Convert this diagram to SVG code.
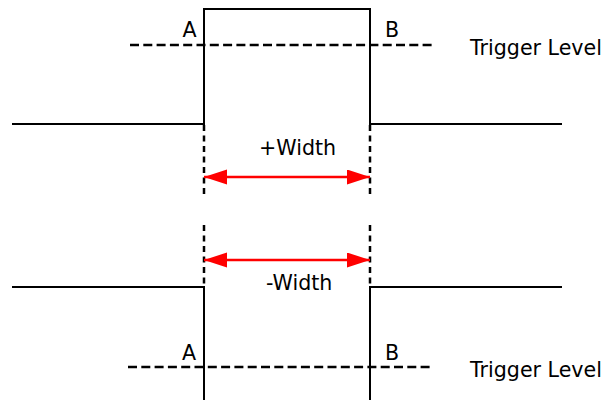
<svg xmlns="http://www.w3.org/2000/svg" width="607" height="400" viewBox="0 0 607 400">
  <style>
    .wave{fill:none;stroke:#000;stroke-width:2}
    .trig{fill:none;stroke:#000;stroke-width:2.5;stroke-dasharray:9,4.3}
    .guide{fill:none;stroke:#000;stroke-width:2.5;stroke-dasharray:6,4.5}
    .meas{fill:none;stroke:#ff0000;stroke-width:2.5}
    .lbl{font-family:"DejaVu Sans",Verdana,sans-serif;font-size:20.6px;fill:#000}
  </style>
  <defs>
    <marker id="ah" markerUnits="userSpaceOnUse" markerWidth="24" markerHeight="16" refX="23" refY="7.5" orient="auto-start-reverse">
      <path d="M0,0 L23,7.5 L0,15 Z" fill="#ff0000"/>
    </marker>
  </defs>
  <rect width="607" height="400" fill="#fff"/>
  <g id="positive-pulse">
    <path class="wave" d="M12,124 H204 V9 H370 V124 H562"/>
    <line class="trig" x1="130" y1="45" x2="433" y2="45"/>
    <text class="lbl" x="182.5" y="37">A</text>
    <text class="lbl" x="385" y="37">B</text>
    <text class="lbl" x="470" y="55">Trigger Level</text>
  </g>
  <g id="negative-pulse">
    <path class="wave" d="M12,287 H204 V400 M370,400 V287 H562"/>
    <line class="trig" x1="128" y1="367" x2="432" y2="367"/>
    <text class="lbl" x="182" y="360">A</text>
    <text class="lbl" x="385" y="360">B</text>
    <text class="lbl" x="470" y="377">Trigger Level</text>
  </g>
  <g id="connectors">
    <line class="guide" x1="204" y1="125" x2="204" y2="197"/>
    <line class="guide" x1="370" y1="125" x2="370" y2="197"/>
    <line class="meas" x1="204" y1="177" x2="370" y2="177" marker-start="url(#ah)" marker-end="url(#ah)"/>
    <line class="guide" x1="204" y1="225" x2="204" y2="287"/>
    <line class="guide" x1="370" y1="225" x2="370" y2="287"/>
    <line class="meas" x1="204" y1="260" x2="370" y2="260" marker-start="url(#ah)" marker-end="url(#ah)"/>
  </g>
  <g id="labels">
    <text class="lbl" x="259" y="155">+Width</text>
    <text class="lbl" x="266" y="290">-Width</text>
  </g>
</svg>
